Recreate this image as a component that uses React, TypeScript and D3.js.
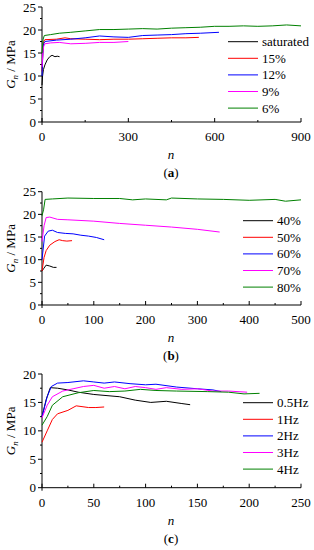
import React from "react";
import { scaleLinear, line, range } from "d3";

type Pt = [number, number];

// (a) moisture content
const aLabels = ["saturated", "15%", "12%", "9%", "6%"];
const aSaturated: Pt[] = [[0, 8], [2, 10], [5, 11.4], [10, 12.4], [18, 13.5], [27, 14.2], [35, 14.5], [45, 14.2], [53, 14.3], [61, 14.2]];
const a15: Pt[] = [[0, 11], [3, 15], [6, 17.5], [10, 17.9], [50, 18], [80, 18.3], [100, 18.1], [150, 18], [200, 17.9], [250, 18], [300, 18], [350, 18.1], [400, 18.2], [450, 18.3], [500, 18.3], [545, 18.4]];
const a12: Pt[] = [[0, 10], [3, 15], [6, 17], [10, 17.5], [50, 17.8], [100, 18], [150, 18.3], [200, 18.7], [250, 18.5], [300, 18.4], [350, 18.8], [400, 18.9], [450, 19], [500, 19.2], [550, 19.3], [615, 19.5]];
const a9: Pt[] = [[0, 12], [3, 15], [6, 16.5], [10, 17], [30, 17.2], [60, 17.3], [100, 17], [150, 17.1], [200, 17.3], [250, 17.3], [300, 17.5]];
const a6: Pt[] = [[0, 15], [4, 18], [8, 18.8], [30, 19], [60, 19.3], [100, 19.5], [150, 19.8], [200, 20.1], [250, 20.1], [300, 20.2], [350, 20.3], [400, 20.2], [450, 20.4], [500, 20.5], [550, 20.6], [600, 20.8], [650, 20.8], [700, 20.9], [750, 20.8], [800, 20.9], [850, 21.1], [900, 20.9]];

// (b) stress level
const bLabels = ["40%", "50%", "60%", "70%", "80%"];
const b40: Pt[] = [[0, 7.5], [3, 8], [8, 8.8], [15, 8.6], [22, 8.3], [28, 8.3]];
const b50: Pt[] = [[0, 7.5], [4, 10.5], [8, 12], [15, 13.2], [25, 14], [33, 14.4], [40, 14.2], [48, 14.1], [58, 14.2]];
const b60: Pt[] = [[0, 10], [5, 15.2], [12, 16.3], [20, 16.5], [30, 16], [45, 15.8], [60, 15.7], [75, 15.4], [90, 15.2], [105, 14.9], [120, 14.4]];
const b70: Pt[] = [[0, 14], [4, 17.5], [8, 19.3], [15, 19.4], [30, 18.9], [50, 18.8], [100, 18.5], [150, 18], [200, 17.6], [250, 17.2], [300, 16.7], [343, 16.1]];
const b80: Pt[] = [[0, 19.7], [3, 21], [6, 23.3], [20, 23.4], [50, 23.6], [100, 23.5], [150, 23.5], [175, 23.2], [200, 23.4], [240, 23.2], [250, 23.6], [300, 23.4], [350, 23.3], [400, 23.1], [450, 23.3], [470, 22.9], [500, 23.2]];

// (c) frequency
const cLabels = ["0.5Hz", "1Hz", "2Hz", "3Hz", "4Hz"];
const c05: Pt[] = [[0, 12.5], [4, 15.5], [8, 17.6], [15, 17.5], [25, 17.2], [35, 16.8], [50, 16.4], [75, 16], [90, 15.4], [105, 15], [120, 15.2], [135, 14.8], [143, 14.6]];
const c1: Pt[] = [[0, 8], [5, 10], [10, 12], [15, 13], [25, 13.6], [33, 14.4], [45, 14.1], [52, 14.1], [60, 14.2]];
const c2: Pt[] = [[0, 12.5], [5, 16], [9, 17.8], [15, 18.4], [25, 18.5], [40, 18.8], [50, 18.6], [60, 18.4], [70, 18.6], [85, 18.3], [100, 18.1], [110, 18.2], [130, 17.7], [150, 17.4], [165, 17.2], [173, 16.9]];
const c3: Pt[] = [[0, 12.3], [5, 14.5], [10, 16], [20, 17], [30, 17.4], [40, 17.8], [50, 18], [60, 17.5], [70, 17.8], [80, 17.4], [90, 17.8], [100, 17.6], [110, 17.3], [120, 17.6], [135, 17.3], [150, 17.4], [165, 17], [180, 17], [198, 16.8]];
const c4: Pt[] = [[0, 11], [5, 12.5], [10, 14.5], [20, 16], [35, 16.7], [50, 17.1], [65, 16.9], [80, 17], [95, 17.3], [110, 17.1], [130, 17], [160, 16.9], [180, 16.8], [195, 16.5], [210, 16.6]];

const colors = ["#000000", "#ff0000", "#0000ff", "#ff00ff", "#008000"];
const font = "'Liberation Serif', 'Times New Roman', serif";

type PanelProps = {
  top: number;
  bottom: number;
  xMax: number;
  xStep: number;
  yMax: number;
  series: Pt[][];
  labels: string[];
  legendX: number;
  legendY: number;
  tag: string;
};

function Panel({ top, bottom, xMax, xStep, yMax, series, labels, legendX, legendY, tag }: PanelProps) {
  const x = scaleLinear().domain([0, xMax]).range([42, 301]);
  const y = scaleLinear().domain([0, yMax]).range([bottom, top]);
  const path = line<Pt>().x((d) => x(d[0])).y((d) => y(d[1]));
  const xMajor = range(0, xMax + 0.001, xStep);
  const xMinor = range(xStep / 2, xMax, xStep);
  const yMajor = range(0, yMax + 0.001, 5);
  const yMinor = range(2.5, yMax, 5);
  const mid = (top + bottom) / 2;
  return (
    <g style={{ fontFamily: font }} fontSize={13} fill="#000">
      <line x1={42} x2={42} y1={top} y2={bottom + 3} stroke="#000" />
      <line x1={42} x2={301} y1={bottom} y2={bottom} stroke="#000" />
      {yMajor.map((v) => (
        <g key={"ym" + v}>
          <line x1={38} x2={42} y1={y(v)} y2={y(v)} stroke="#000" />
          <text x={36} y={y(v) + 4.5} textAnchor="end">{v}</text>
        </g>
      ))}
      {yMinor.map((v) => (
        <line key={"yn" + v} x1={40} x2={42} y1={y(v)} y2={y(v)} stroke="#000" />
      ))}
      {xMajor.map((v) => (
        <g key={"xm" + v}>
          <line x1={x(v)} x2={x(v)} y1={bottom - 4} y2={bottom} stroke="#000" />
          <text x={x(v)} y={bottom + 19} textAnchor="middle">{v}</text>
        </g>
      ))}
      {xMinor.map((v) => (
        <line key={"xn" + v} x1={x(v)} x2={x(v)} y1={bottom - 2} y2={bottom} stroke="#000" />
      ))}
      {series.map((s, i) => (
        <path key={i} d={path(s) || ""} fill="none" stroke={colors[i]} strokeWidth={1} />
      ))}
      {labels.map((l, i) => (
        <g key={l}>
          <line x1={legendX} x2={legendX + 30} y1={legendY + i * 16.6} y2={legendY + i * 16.6} stroke={colors[i]} />
          <text x={legendX + 34} y={legendY + i * 16.6 + 4.5}>{l}</text>
        </g>
      ))}
      <text transform={`translate(15,${mid}) rotate(-90)`} textAnchor="middle">
        <tspan fontStyle="italic">G</tspan>
        <tspan fontStyle="italic" fontSize={9} dy={3}>n</tspan>
        <tspan dy={-3}> / MPa</tspan>
      </text>
      <text x={171} y={bottom + 37} textAnchor="middle" fontStyle="italic">n</text>
      <text x={171} y={bottom + 55} textAnchor="middle">
        (<tspan fontWeight="bold">{tag}</tspan>)
      </text>
    </g>
  );
}

export default function App() {
  return (
    <svg width={314} height={550} style={{ position: "absolute", left: 0, top: 0, background: "#fff" }}>
      <Panel top={7} bottom={122} xMax={900} xStep={300} yMax={25}
        series={[aSaturated, a15, a12, a9, a6]} labels={aLabels} legendX={228} legendY={41.7} tag="a" />
      <Panel top={191.7} bottom={305} xMax={500} xStep={100} yMax={25}
        series={[b40, b50, b60, b70, b80]} labels={bLabels} legendX={243} legendY={220.7} tag="b" />
      <Panel top={374} bottom={487.7} xMax={250} xStep={50} yMax={20}
        series={[c05, c1, c2, c3, c4]} labels={cLabels} legendX={243} legendY={402.7} tag="c" />
    </svg>
  );
}
